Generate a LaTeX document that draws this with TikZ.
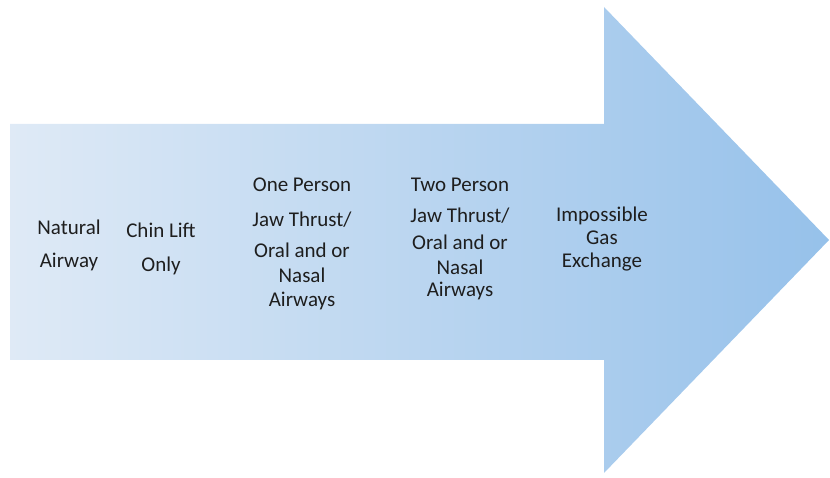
\documentclass[tikz,border=0pt]{standalone}
\usepackage{fontspec}
\setmainfont{Carlito}
\definecolor{arrowL}{RGB}{223,234,246}
\definecolor{arrowR}{RGB}{150,193,234}
\definecolor{txt}{RGB}{30,30,30}
\begin{document}
\begin{tikzpicture}[x=1pt,y=1pt,
  lbl/.style={anchor=base,inner sep=0pt,text=txt,font=\fontsize{21}{25}\selectfont}]
\useasboundingbox (0,0) rectangle (830,478);
\shade[left color=arrowL,right color=arrowR]
  (10,354) -- (604,354) -- (604,471) -- (829,238) -- (604,5) -- (604,118) -- (10,118) -- cycle;
% Natural Airway
\node[lbl] (n1) at (69,243) {Natural};
\node[lbl] (n2) at (69,210) {Airway};
% Chin Lift Only
\node[lbl] (c1) at (161,240) {Chin Lift};
\node[lbl] (c2) at (161,206) {Only};
% One Person
\node[lbl] (o1) at (302,286) {One Person};
\node[lbl] (o2) at (302,251) {Jaw Thrust/};
\node[lbl] (o3) at (302,220) {Oral and or};
\node[lbl] (o4) at (302,195) {Nasal};
\node[lbl] (o5) at (302,171) {Airways};
% Two Person
\node[lbl] (t1) at (460,286) {Two Person};
\node[lbl] (t2) at (460,255) {Jaw Thrust/};
\node[lbl] (t3) at (460,228) {Oral and or};
\node[lbl] (t4) at (460,203) {Nasal};
\node[lbl] (t5) at (460,181) {Airways};
% Impossible Gas Exchange
\node[lbl] (i1) at (602,256) {Impossible};
\node[lbl] (i2) at (602,233) {Gas};
\node[lbl] (i3) at (602,210) {Exchange};
\end{tikzpicture}
\end{document}
